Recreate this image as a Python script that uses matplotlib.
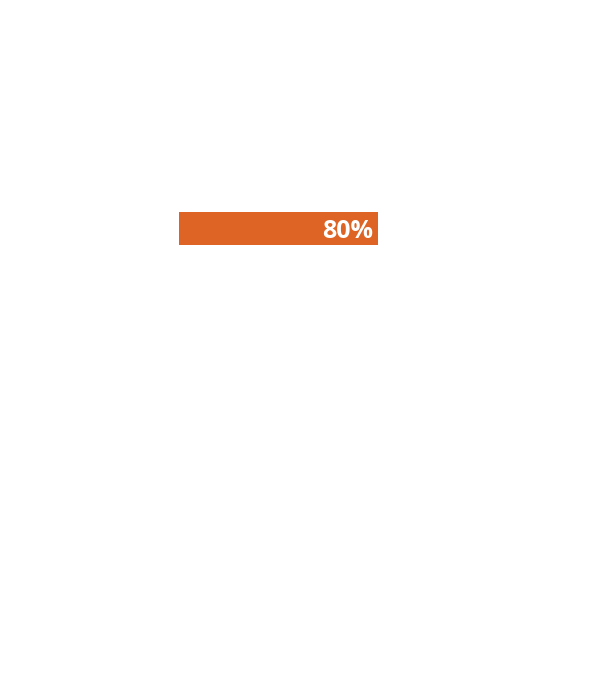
import matplotlib
matplotlib.use("Agg")
import matplotlib.pyplot as plt

# data
labels = [""]
values = [80]
value_labels = ["80%"]

BAR_COLOR = "#DD6424"

fig = plt.figure(figsize=(6.05, 6.8), dpi=100)
fig.patch.set_facecolor("white")

# axis spans 0-100 so the 80% bar ends where the reference bar ends
ax = fig.add_axes([179 / 605, (680 - 245) / 680, 249 / 605, 33 / 680])
ax.barh(labels, values, height=1.0, color=BAR_COLOR, edgecolor="none")
ax.set_xlim(0, 100)
ax.set_ylim(-0.5, 0.5)

for i, (v, txt) in enumerate(zip(values, value_labels)):
    ax.text(v - 1.9, i - 0.1, txt, ha="right", va="center", color="white",
            fontsize=18, fontweight="bold", family=["Open Sans", "DejaVu Sans"])

ax.axis("off")
fig.savefig("out.png", dpi=100, facecolor="white")
